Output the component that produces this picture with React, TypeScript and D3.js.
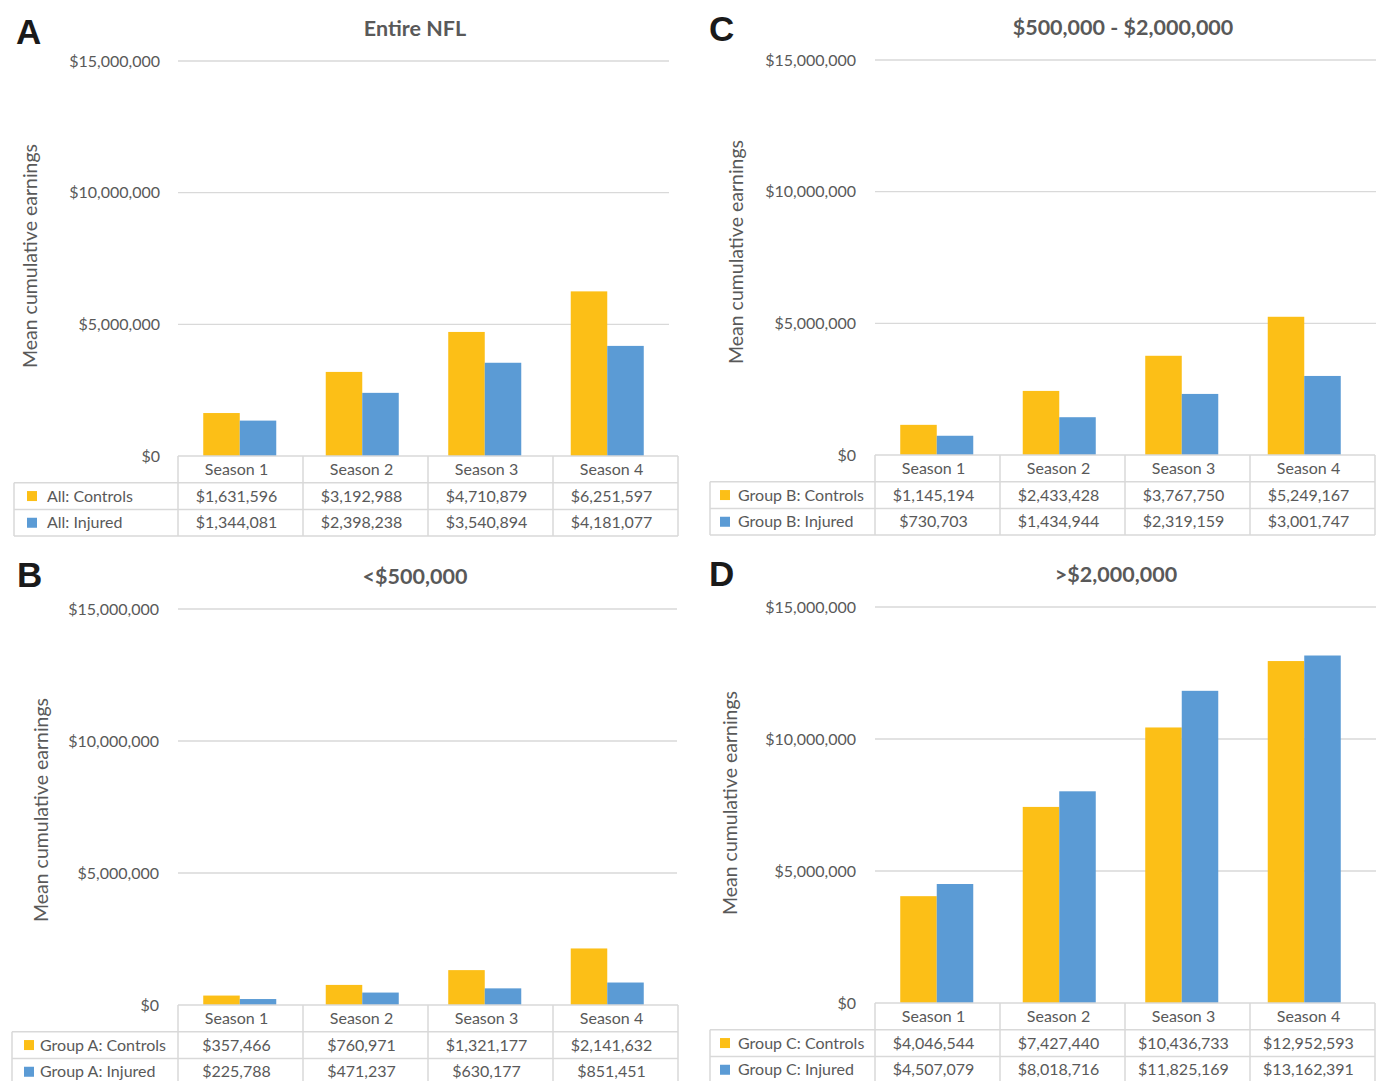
import { scaleBand, scaleLinear } from "d3";

const seasons = ["Season 1", "Season 2", "Season 3", "Season 4"];
const yTicks = [0, 5000000, 10000000, 15000000];

const panelLetters = ["A", "B", "C", "D"];
const panelTitles = ["Entire NFL", "<$500,000", "$500,000 - $2,000,000", ">$2,000,000"];
const controlNames = ["All: Controls", "Group A: Controls", "Group B: Controls", "Group C: Controls"];
const injuredNames = ["All: Injured", "Group A: Injured", "Group B: Injured", "Group C: Injured"];

const allControls = [1631596, 3192988, 4710879, 6251597];
const allInjured = [1344081, 2398238, 3540894, 4181077];
const groupAControls = [357466, 760971, 1321177, 2141632];
const groupAInjured = [225788, 471237, 630177, 851451];
const groupBControls = [1145194, 2433428, 3767750, 5249167];
const groupBInjured = [730703, 1434944, 2319159, 3001747];
const groupCControls = [4046544, 7427440, 10436733, 12952593];
const groupCInjured = [4507079, 8018716, 11825169, 13162391];

const YELLOW = "#FCBF17";
const BLUE = "#5B9BD5";
const GRID = "#D9D9D9";
const TEXT = "#595959";
const FONT = "Lato, 'Open Sans', sans-serif";

type Layout = {
  legendX: number;
  x0: number;
  x1: number;
  gridRight: number;
  yTop: number;
  yZero: number;
  tickX: number;
  letterX: number;
  letterY: number;
  titleX: number;
  titleY: number;
  axisLabelX: number;
  axisLabelY: number;
  sqX: number;
  nameX: number;
};

const layouts: Layout[] = [
  { legendX: 14, x0: 178, x1: 678, gridRight: 669, yTop: 61, yZero: 456, tickX: 160, letterX: 16, letterY: 44, titleX: 415, titleY: 36, axisLabelX: 37, axisLabelY: 256, sqX: 27, nameX: 47 },
  { legendX: 12, x0: 178, x1: 678, gridRight: 677, yTop: 609, yZero: 1005, tickX: 159, letterX: 17, letterY: 587, titleX: 415, titleY: 584, axisLabelX: 48, axisLabelY: 810, sqX: 24, nameX: 40 },
  { legendX: 710, x0: 875, x1: 1375, gridRight: 1376, yTop: 60, yZero: 455, tickX: 856, letterX: 709, letterY: 41, titleX: 1123, titleY: 35, axisLabelX: 743, axisLabelY: 252, sqX: 720, nameX: 738 },
  { legendX: 710, x0: 875, x1: 1375, gridRight: 1376, yTop: 607, yZero: 1003, tickX: 856, letterX: 709, letterY: 586, titleX: 1116, titleY: 582, axisLabelX: 737, axisLabelY: 803, sqX: 720, nameX: 738 },
];

const panelControls = [allControls, groupAControls, groupBControls, groupCControls];
const panelInjured = [allInjured, groupAInjured, groupBInjured, groupCInjured];

const money = (v: number) => "$" + v.toLocaleString("en-US");

function Panel({ i }: { i: number }) {
  const L = layouts[i];
  const controls = panelControls[i];
  const injured = panelInjured[i];
  const y = scaleLinear().domain([0, 15000000]).range([L.yZero, L.yTop]);
  // plot area is a bit narrower than the data table below it
  const x = scaleBand<string>()
    .domain(seasons)
    .range([L.x0 + 0.5, L.x0 + 490.5])
    .paddingInner(0.404)
    .paddingOuter(0.202);
  const inner = scaleBand<string>()
    .domain(["c", "i"])
    .range([0, x.bandwidth()]);
  const colX = scaleBand<string>().domain(seasons).range([L.x0, L.x1]);
  const rowH = 26.7;
  const headTop = L.yZero;
  const r1 = headTop + rowH;
  const r2 = r1 + rowH;
  const r3 = r2 + rowH;
  const fs = 16;

  return (
    <g>
      <text x={L.letterX} y={L.letterY} fontFamily="'Liberation Sans', Arial, sans-serif" fontWeight="bold" fontSize={35} fill="#1a1a1a">
        {panelLetters[i]}
      </text>
      <text x={L.titleX} y={L.titleY} textAnchor="middle" fontFamily={FONT} fontWeight="bold" fontSize={21.5} fill={TEXT}>
        {panelTitles[i]}
      </text>
      <text
        transform={`translate(${L.axisLabelX},${L.axisLabelY}) rotate(-90)`}
        textAnchor="middle"
        fontFamily={FONT}
        fontSize={19.5}
        fill={TEXT}
      >
        Mean cumulative earnings
      </text>
      {yTicks.map((t) => (
        <g key={t}>
          {t > 0 && (
            <line x1={L.x0} x2={L.gridRight} y1={y(t)} y2={y(t)} stroke={GRID} strokeWidth={1.3} />
          )}
          <text x={L.tickX} y={y(t)} dy="0.35em" textAnchor="end" fontFamily={FONT} fontSize={fs} fill={TEXT}>
            {money(t)}
          </text>
        </g>
      ))}
      {seasons.map((s, k) => (
        <g key={s}>
          <rect x={(x(s) ?? 0) + (inner("c") ?? 0)} width={inner.bandwidth()} y={y(controls[k])} height={L.yZero - y(controls[k])} fill={YELLOW} />
          <rect x={(x(s) ?? 0) + (inner("i") ?? 0)} width={inner.bandwidth()} y={y(injured[k])} height={L.yZero - y(injured[k])} fill={BLUE} />
        </g>
      ))}
      {/* data table */}
      <g stroke={GRID} strokeWidth={1.5} fill="none">
        <line x1={L.x0} x2={L.x1} y1={headTop} y2={headTop} />
        <line x1={L.legendX} x2={L.x1} y1={r1} y2={r1} />
        <line x1={L.legendX} x2={L.x1} y1={r2} y2={r2} />
        <line x1={L.legendX} x2={L.x1} y1={r3} y2={r3} />
        <line x1={L.legendX} x2={L.legendX} y1={r1} y2={r3} />
        {seasons.map((s) => (
          <line key={s} x1={colX(s)} x2={colX(s)} y1={headTop} y2={r3} />
        ))}
        <line x1={L.x1} x2={L.x1} y1={headTop} y2={r3} />
      </g>
      {seasons.map((s, k) => {
        const cx = (colX(s) ?? 0) + colX.bandwidth() / 2 - 4;
        return (
          <g key={s} fontFamily={FONT} fontSize={fs} fill={TEXT} textAnchor="middle">
            <text x={cx} y={(headTop + r1) / 2} dy="0.35em">{s}</text>
            <text x={cx} y={(r1 + r2) / 2} dy="0.35em">{money(controls[k])}</text>
            <text x={cx} y={(r2 + r3) / 2} dy="0.35em">{money(injured[k])}</text>
          </g>
        );
      })}
      <rect x={L.sqX} y={(r1 + r2) / 2 - 5} width={10} height={10} fill={YELLOW} />
      <rect x={L.sqX} y={(r2 + r3) / 2 - 5} width={10} height={10} fill={BLUE} />
      <text x={L.nameX} y={(r1 + r2) / 2} dy="0.35em" fontFamily={FONT} fontSize={fs} fill={TEXT}>
        {controlNames[i]}
      </text>
      <text x={L.nameX} y={(r2 + r3) / 2} dy="0.35em" fontFamily={FONT} fontSize={fs} fill={TEXT}>
        {injuredNames[i]}
      </text>
    </g>
  );
}

export default function App() {
  return (
    <svg
      width={1376}
      height={1081}
      style={{ position: "absolute", left: 0, top: 0, background: "#fff" }}
    >
      <rect width={1376} height={1081} fill="#fff" />
      {[0, 1, 2, 3].map((i) => (
        <Panel key={i} i={i} />
      ))}
    </svg>
  );
}
